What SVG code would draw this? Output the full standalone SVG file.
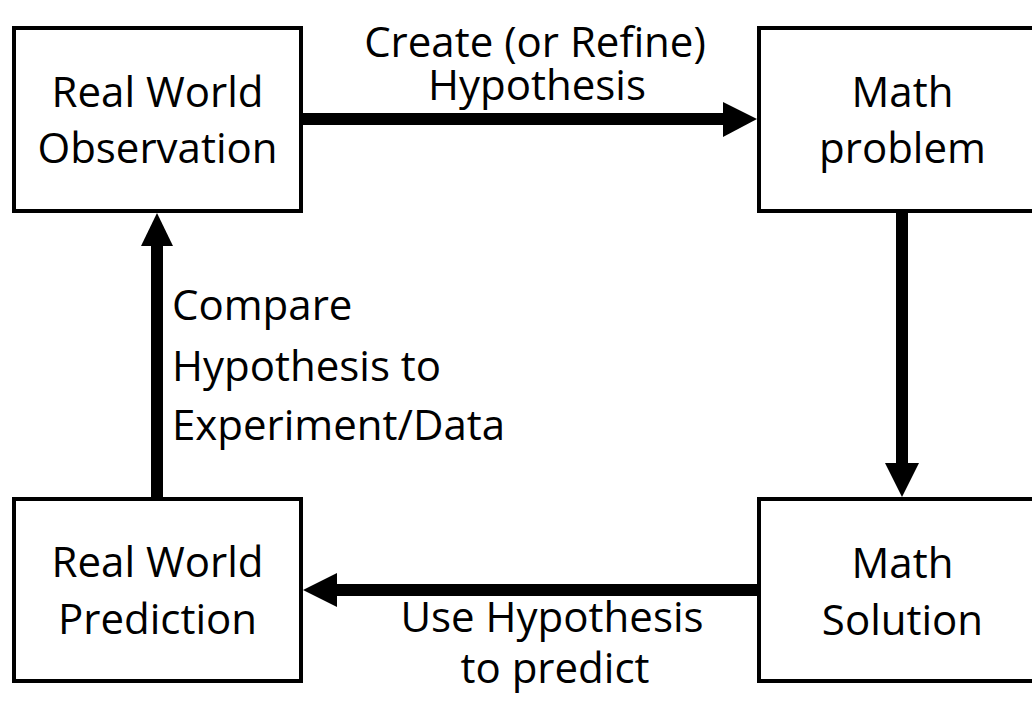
<svg xmlns="http://www.w3.org/2000/svg" width="1032" height="702" viewBox="0 0 1032 702">
  <style>
    .box { fill: #ffffff; stroke: #000000; stroke-width: 4; }
    .lbl { font-family: "Open Sans", "Noto Sans", "DejaVu Sans", sans-serif; font-size: 42px; fill: #000000; }
    .mid { text-anchor: middle; }
    .shaft { stroke: #000000; stroke-width: 12; fill: none; }
    .head { fill: #000000; }
  </style>
  <rect x="0" y="0" width="1032" height="702" fill="#ffffff"/>

  <g id="connectors">
    <g id="edge-observation-problem">
      <line class="shaft" x1="303" y1="119" x2="724" y2="119"/>
      <polygon class="head" points="723,102 757,119 723,137"/>
    </g>
    <g id="edge-problem-solution">
      <line class="shaft" x1="902" y1="213" x2="902" y2="464"/>
      <polygon class="head" points="885,463 902,497 919,463"/>
    </g>
    <g id="edge-solution-prediction">
      <line class="shaft" x1="757" y1="590" x2="336" y2="590"/>
      <polygon class="head" points="337,573 303,590 337,607"/>
    </g>
    <g id="edge-prediction-observation">
      <line class="shaft" x1="157" y1="497" x2="157" y2="245"/>
      <polygon class="head" points="141,246 157,213 173,246"/>
    </g>
    <text class="lbl mid" x="535" y="57">Create (or Refine)</text>
    <text class="lbl mid" x="537" y="100">Hypothesis</text>
    <text class="lbl" x="172" y="320">Compare</text>
    <text class="lbl" x="172" y="381">Hypothesis to</text>
    <text class="lbl" x="172" y="440">Experiment/Data</text>
    <text class="lbl mid" x="552" y="632">Use Hypothesis</text>
    <text class="lbl mid" x="555" y="683">to predict</text>
  </g>

  <g id="node-observation">
    <rect class="box" x="14" y="28" width="287" height="183"/>
    <text class="lbl mid" x="157.5" y="107">Real World</text>
    <text class="lbl mid" x="157.5" y="163">Observation</text>
  </g>
  <g id="node-problem">
    <rect class="box" x="759" y="28" width="287" height="183"/>
    <text class="lbl mid" x="902.5" y="107">Math</text>
    <text class="lbl mid" x="902.5" y="163">problem</text>
  </g>
  <g id="node-prediction">
    <rect class="box" x="14" y="499" width="287" height="182"/>
    <text class="lbl mid" x="157.5" y="577">Real World</text>
    <text class="lbl mid" x="157.5" y="634">Prediction</text>
  </g>
  <g id="node-solution">
    <rect class="box" x="759" y="499" width="287" height="182"/>
    <text class="lbl mid" x="902.5" y="578">Math</text>
    <text class="lbl mid" x="902.5" y="635">Solution</text>
  </g>
</svg>
